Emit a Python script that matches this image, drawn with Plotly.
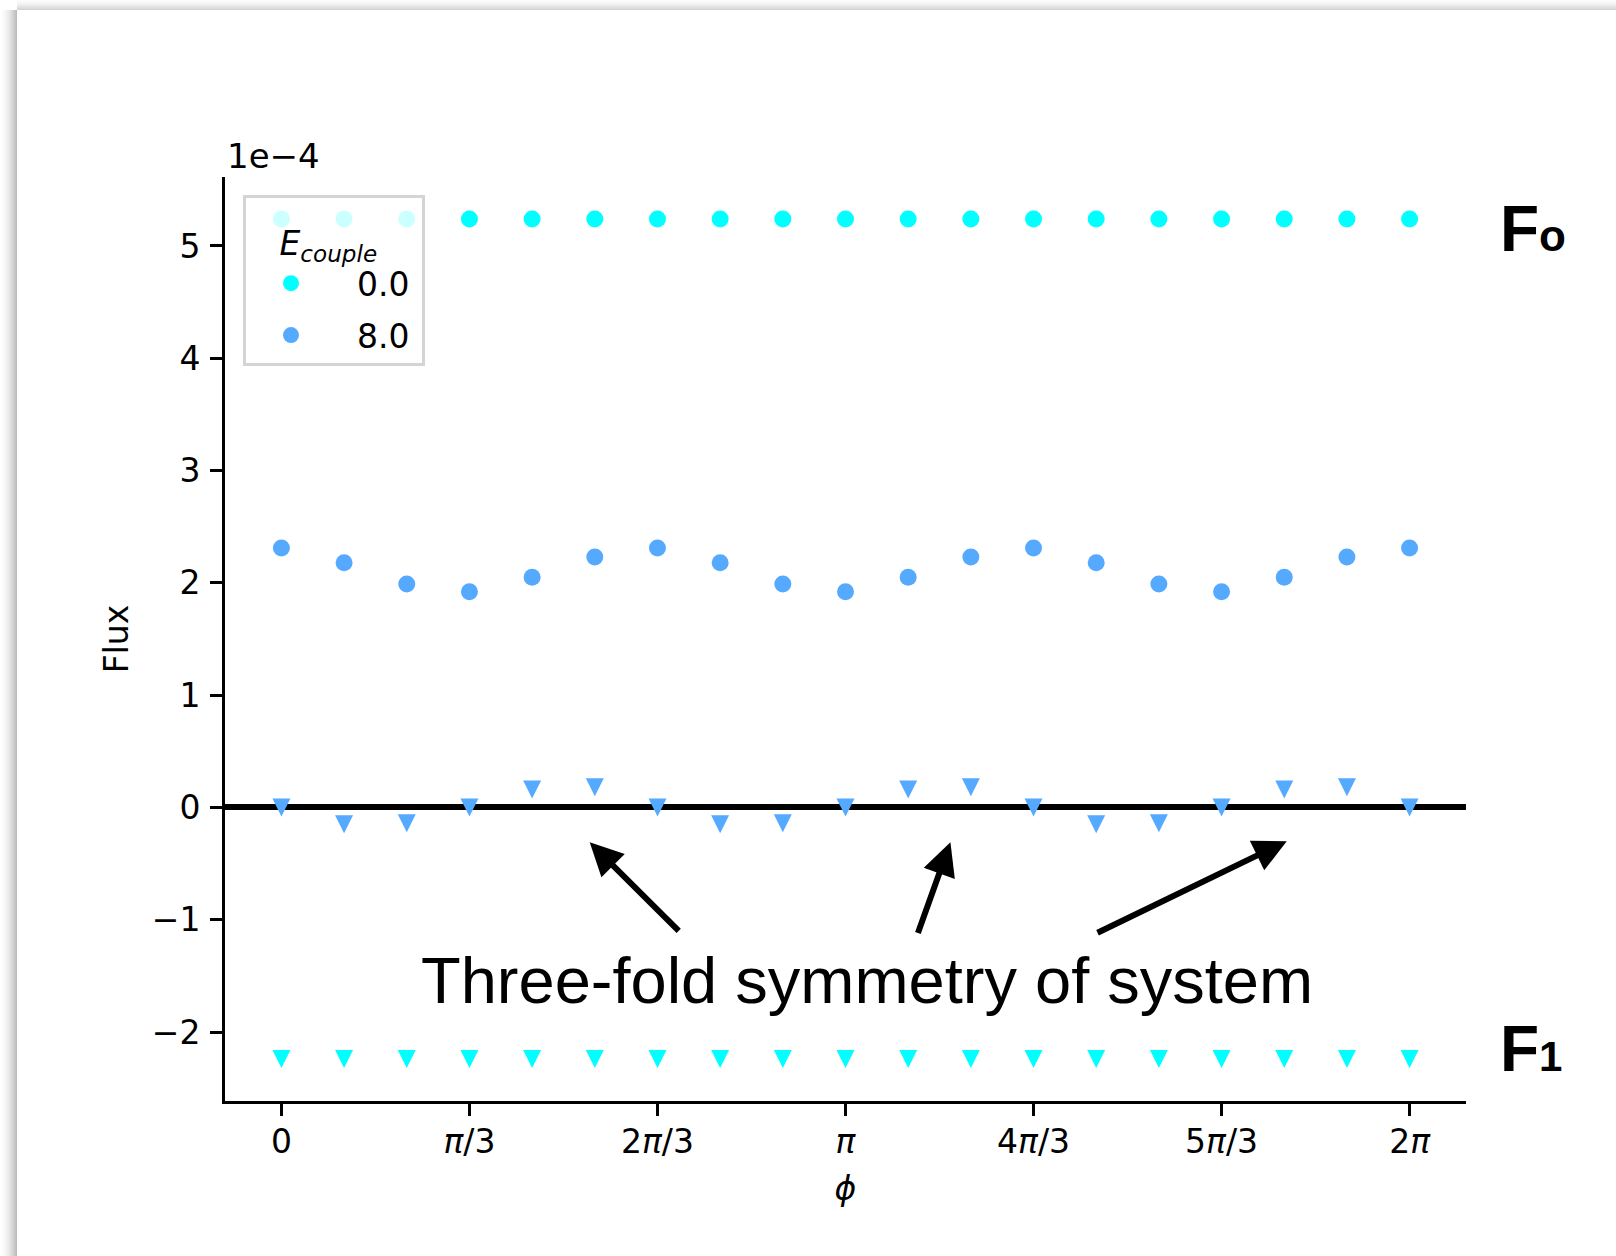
import numpy as np
import plotly.graph_objects as go

# Phase angle samples: 0 .. 2π in steps of π/9
phi = [k * np.pi / 9 for k in range(19)]

# Flux values, in units of 1e-4
flux0_e0 = [5.24, 5.24, 5.24, 5.24, 5.24, 5.24, 5.24, 5.24, 5.24, 5.24,
            5.24, 5.24, 5.24, 5.24, 5.24, 5.24, 5.24, 5.24, 5.24]
flux1_e0 = [-2.24, -2.24, -2.24, -2.24, -2.24, -2.24, -2.24, -2.24, -2.24, -2.24,
            -2.24, -2.24, -2.24, -2.24, -2.24, -2.24, -2.24, -2.24, -2.24]
flux0_e8 = [2.31, 2.18, 1.99, 1.92, 2.05, 2.23, 2.31, 2.18, 1.99, 1.92,
            2.05, 2.23, 2.31, 2.18, 1.99, 1.92, 2.05, 2.23, 2.31]
flux1_e8 = [0.00, -0.15, -0.14, 0.00, 0.16, 0.18, 0.00, -0.15, -0.14, 0.00,
            0.16, 0.18, 0.00, -0.15, -0.14, 0.00, 0.16, 0.18, 0.00]

e_couple_labels = ["0.0", "8.0"]

x_tick_vals = [k * np.pi / 3 for k in range(7)]
x_tick_text = ["0", "<i>π</i>/3", "2<i>π</i>/3", "<i>π</i>", "4<i>π</i>/3", "5<i>π</i>/3", "2<i>π</i>"]
y_tick_vals = [-2, -1, 0, 1, 2, 3, 4, 5]
y_tick_text = ["−2", "−1", "0", "1", "2", "3", "4", "5"]

CYAN = "#00ffff"
BLUE = "#55aaff"
FONT = "DejaVu Sans"
SANS = "Liberation Sans"

W, H = 1616, 1256
ML, MR, MT, MB = 225, 150, 177, 155


def px_x(px):
    return (px - ML) / (W - ML - MR)


def px_y(py):
    return (H - MB - py) / (H - MT - MB)


fig = go.Figure()

NBSP = "\u00a0"
TRI_SIZE = 18  # downward triangle, box centred on the data point via standoff
series = [
    (flux0_e0, flux1_e0, CYAN, e_couple_labels[0], "e0"),
    (flux0_e8, flux1_e8, BLUE, e_couple_labels[1], "e8"),
]
for f0, f1, color, label, grp in series:
    fig.add_trace(go.Scatter(
        x=phi, y=f0, mode="markers", name=NBSP * 2 + label + "\u2009", legendgroup=grp,
        marker=dict(symbol="circle", size=17, color=color, line=dict(width=0)),
    ))
    fig.add_trace(go.Scatter(
        x=phi, y=f1, mode="markers", name=label, legendgroup=grp, showlegend=False,
        marker=dict(symbol="arrow-down", size=TRI_SIZE, standoff=TRI_SIZE / 2,
                    color=color, line=dict(width=0)),
    ))

axis_common = dict(
    showline=True, linecolor="black", linewidth=3,
    ticks="outside", ticklen=12, tickwidth=3, tickcolor="black",
    showgrid=False, mirror=False,
    tickfont=dict(family=FONT, size=33, color="black"),
)

x_span = 2 * np.pi
fig.update_xaxes(
    range=[-0.05 * x_span, 1.05 * x_span],
    tickmode="array", tickvals=x_tick_vals, ticktext=x_tick_text,
    zeroline=False,
    title=dict(text="<i>ϕ</i>", font=dict(family=FONT, size=33, color="black"), standoff=18),
    ticklabelstandoff=-3,
    **axis_common,
)
y_lo, y_hi = -2.24, 5.24
y_pad = 0.05 * (y_hi - y_lo)
fig.update_yaxes(
    range=[y_lo - y_pad, y_hi + y_pad],
    tickmode="array", tickvals=y_tick_vals, ticktext=y_tick_text,
    zeroline=True, zerolinecolor="black", zerolinewidth=6,
    title=dict(text="Flux", font=dict(family=FONT, size=33, color="black"), standoff=14),
    ticklabelstandoff=3,
    **axis_common,
)

annotations = [
    # axis scale factor
    dict(text="1e−4", xref="paper", yref="paper", x=px_x(225), y=px_y(156),
         xanchor="left", yanchor="middle", showarrow=False,
         font=dict(family=FONT, size=34, color="black")),
    # branch labels
    dict(text="<b>F<span style='font-size:44px'>o</span></b>", xref="paper", yref="paper",
         x=px_x(1498), y=px_y(229), xanchor="left", yanchor="middle", showarrow=False,
         font=dict(family=SANS, size=64, color="black")),
    dict(text="<b>F<span style='font-size:42px'>1</span></b>", xref="paper", yref="paper",
         x=px_x(1498), y=px_y(1049), xanchor="left", yanchor="middle", showarrow=False,
         font=dict(family=SANS, size=64, color="black")),
    # caption
    dict(text="Three-fold symmetry of system", xref="paper", yref="paper",
         x=px_x(867), y=px_y(980), xanchor="center", yanchor="middle", showarrow=False,
         font=dict(family=SANS, size=65, color="black")),
]

# arrows pointing at the repeating pattern: (head_x, head_y, tail_x, tail_y)
arrows = [
    (1.717, -0.31, 2.221, -1.113),
    (3.726, -0.31, 3.542, -1.131),
    (5.599, -0.30, 4.537, -1.122),
]
for hx, hy, tx, ty in arrows:
    annotations.append(dict(
        text="", x=hx, y=hy, ax=tx, ay=ty, xref="x", yref="y", axref="x", ayref="y",
        showarrow=True, arrowhead=2, arrowsize=1.1, arrowwidth=6, arrowcolor="black",
        standoff=0, startstandoff=0,
    ))

# soft shadow along the left and top edges of the card
shapes = []
for i in range(15):
    g = int(252 - (252 - 188) * (i / 14) ** 1.5)
    shapes.append(dict(type="rect", xref="paper", yref="paper",
                       x0=px_x(2 + i), x1=px_x(3 + i), y0=px_y(H), y1=px_y(10),
                       fillcolor=f"rgb({g},{g},{g})", line=dict(width=0), layer="above"))
for i in range(10):
    g = int(252 - (252 - 212) * (i / 9) ** 1.5)
    shapes.append(dict(type="rect", xref="paper", yref="paper",
                       x0=px_x(17), x1=px_x(W), y0=px_y(i + 1), y1=px_y(i),
                       fillcolor=f"rgb({g},{g},{g})", line=dict(width=0), layer="above"))

fig.update_layout(
    width=W, height=H,
    margin=dict(l=ML, r=MR, t=MT, b=MB, autoexpand=False),
    paper_bgcolor="white", plot_bgcolor="white",
    showlegend=True,
    legend=dict(
        x=px_x(243), y=px_y(195), xanchor="left", yanchor="top",
        bgcolor="rgba(255,255,255,0.8)", bordercolor="#d4d4d4", borderwidth=3,
        font=dict(family=FONT, size=33, color="black"),
        title=dict(text="<span style='font-size:33px'>" + NBSP * 3 + "<i>E<sub>couple</sub></i></span>",
                   font=dict(family=FONT, size=44, color="black")),
        tracegroupgap=6, itemwidth=80,
    ),
    annotations=annotations,
    shapes=shapes,
)

fig.write_html("out.html")
